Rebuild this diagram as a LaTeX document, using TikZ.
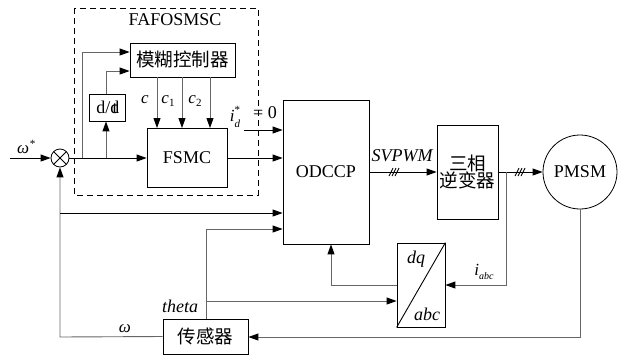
\documentclass[tikz,border=0pt]{standalone}
\usepackage{fontspec}
\setmainfont{Liberation Serif}
\newfontfamily\cjk{Noto Sans CJK SC}
\usetikzlibrary{arrows.meta,calc}
\definecolor{lg}{HTML}{666666}
\begin{document}
\begin{tikzpicture}[x=1pt,y=-1pt,
  blk/.style={draw=black,line width=0.8pt,inner sep=0pt},
  ln/.style={line width=0.9pt,draw=black},
  gl/.style={line width=0.9pt,draw=lg},
  arr/.style={-{Triangle[length=10pt,width=7pt,color=black]}},
  lat/.style={font=\fontsize{18}{20}\selectfont},
  zh/.style={font=\cjk\fontsize{18.5}{21}\selectfont},
  lab/.style={font=\fontsize{17}{19}\selectfont\itshape,inner sep=0pt}]
\useasboundingbox (0,0) rectangle (627,357);
% dashed frame
\draw[line width=1pt,dash pattern=on 6pt off 4pt] (74,8) rectangle (258,195);
\node[lat] (title) at (175,20) {FAFOSMSC};
% blocks
\node[blk,minimum width=105pt,minimum height=34pt,zh] (fuz) at (182.5,60) {模糊控制器};
\node[blk,minimum width=36pt,minimum height=27pt,lat] (ddt) at (107,107.5) {d/d\kern-0.38em t};
\node[blk,minimum width=80pt,minimum height=59pt,lat] (fsmc) at (187,158) {FSMC};
\node[blk,minimum width=86pt,minimum height=144pt,lat] (odc) at (326,172) {ODCCP};
\node[blk,minimum width=61pt,minimum height=94pt,zh,align=center] (inv) at (467.5,172) {三相\\[-4pt]逆变器};
\node[blk,circle,minimum size=74pt,lat] (pmsm) at (580,172) {PMSM};
\node[blk,minimum width=48pt,minimum height=84pt] (dq) at (421,285) {};
\draw[ln] (dq.south west) -- (dq.north east);
\node[lab,font=\fontsize{18}{20}\selectfont\itshape] (dqt) at (416,259) {dq};
\node[lab,font=\fontsize{18}{20}\selectfont\itshape] (abct) at (427,314) {abc};
\node[blk,minimum width=85pt,minimum height=35pt,zh] (sen) at (205.5,336.5) {传感器};
% summing junction
\node[blk,circle,minimum size=18pt,
  path picture={\draw[line width=0.8pt] (path picture bounding box.south west) -- (path picture bounding box.north east)
                 (path picture bounding box.north west) -- (path picture bounding box.south east);}] (sum) at (60,158) {};
% input
\coordinate (in) at (10,158);
\draw[ln,arr] (in) -- (sum.west);
\node[lab] (wst) at (26,147) {ω\raisebox{0.7ex}{\fontsize{11}{12}\selectfont *}};
% forward path
\draw[ln,arr] (sum.east) -- (fsmc.west);
\coordinate (b1) at (82,158);
\coordinate (b1t) at (82,52);
\draw[gl,arr] (b1) -- (b1t) -- (fuz.west |- b1t);
\coordinate (b2) at (106,158);
\draw[gl,arr] (b2) -- (ddt.south -| b2);
\coordinate (b2t) at (106,71);
\draw[gl,arr] (ddt.north -| b2) -- (b2t) -- (fuz.west |- b2t);
% fuzzy outputs
\foreach \xx/\nm in {157/ca,182/cb,210/cc}{
  \coordinate (\nm t) at (\xx,77);
  \coordinate (\nm b) at (\xx,128);
  \draw[gl,arr] (\nm t) -- (\nm b);
}
\node[lab] (lc) at (145,100) {c};
\node[lab] (lc1) at (168,101) {c\raisebox{-0.5ex}{\fontsize{11}{12}\selectfont\upshape 1}};
\node[lab] (lc2) at (195,101) {c\raisebox{-0.5ex}{\fontsize{11}{12}\selectfont\upshape 2}};
\draw[ln,arr] (fsmc.east) -- (fsmc.east -| odc.west);
% id* = 0
\coordinate (id0) at (244,130);
\draw[ln,arr] (id0) -- (id0 -| odc.west);
\node[lab] (idl) at (235,117) {i\rlap{\raisebox{1.0ex}{\fontsize{11}{12}\selectfont\upshape *}}\raisebox{-0.7ex}{\fontsize{11}{12}\selectfont d}};
\node[lat,inner sep=0pt] (eq) at (265,113) {=\ 0};
% SVPWM
\draw[ln,arr] (odc.east |- inv.west) -- (inv.west);
\node[lab,font=\fontsize{18}{20}\selectfont\itshape] (svl) at (402,156) {SVPWM};
\draw[ln] (389,176) -- (393,168) (392,176) -- (396,168) (395,176) -- (399,168);
\draw[ln,arr] (inv.east) -- (pmsm.west);
\draw[ln] (515,176) -- (519,168) (518,176) -- (522,168) (521,176) -- (525,168);
% current feedback
\coordinate (ib) at (506,172);
\coordinate (ic) at (506,285);
\draw[gl,arr] (ib) -- (ic) -- (dq.east);
\node[lab] (ial) at (484,272) {i\raisebox{-0.6ex}{\fontsize{10}{11}\selectfont abc}};
\coordinate (dqc) at (331,285);
\draw[gl,arr] (dq.west) -- (dqc) -- (dqc |- odc.south);
% speed / position feedback
\coordinate (pb) at (580,337);
\draw[gl,arr] (pmsm.south) -- (pb) -- (pb -| sen.east);
\coordinate (wl) at (60,337);
\draw[gl,arr] (sen.west) -- (wl) -- (sum.south);
\node[lab] (wlab) at (125,329) {ω};
\coordinate (wb) at (60,213);
\draw[ln,arr] (wb) -- (wb -| odc.west);
\coordinate (tt) at (206,229);
\draw[gl,arr] (sen.north -| tt) -- (tt) -- (tt -| odc.west);
\coordinate (tb) at (206,301);
\draw[gl,arr] (tb) -- (tb -| dq.west);
\node[lab,font=\fontsize{18}{20}\selectfont\itshape] (thl) at (180,306) {theta};
\end{tikzpicture}
\end{document}
